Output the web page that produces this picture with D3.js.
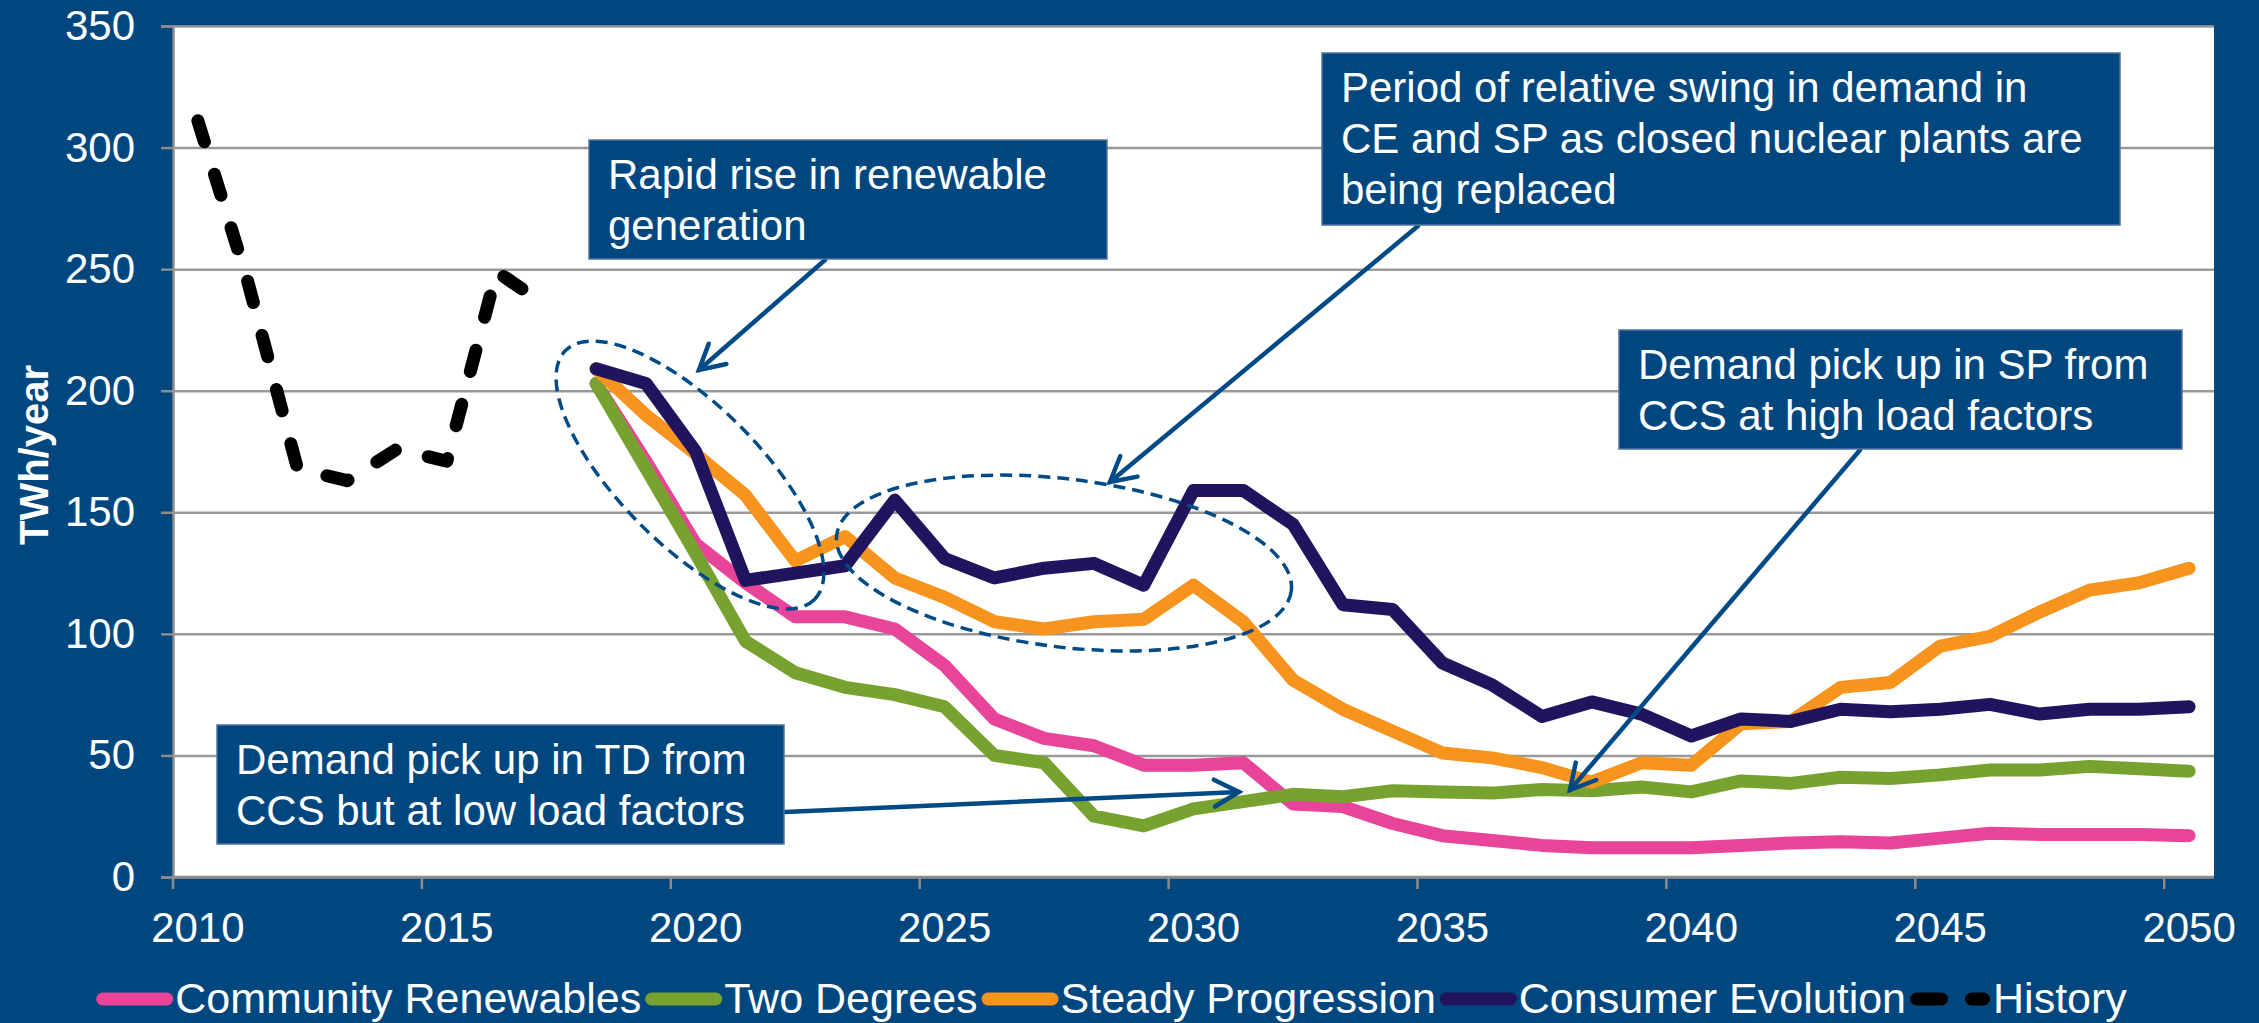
<!DOCTYPE html>
<html>
<head>
<meta charset="utf-8">
<script src="https://cdn.jsdelivr.net/npm/d3@7"></script>
<style>
  html, body { margin: 0; padding: 0; background: #00477f; }
  svg { display: block; }
  text { font-family: "Liberation Sans", Arial, sans-serif; fill: #fff; }
</style>
</head>
<body>
<div id="chart"></div>
<script>
// data (TWh/year)
const years = d3.range(2010, 2051);
const yTicks = [0, 50, 100, 150, 200, 250, 300, 350];
const xTickYears = [2010, 2015, 2020, 2025, 2030, 2035, 2040, 2045, 2050];

const historyYears = [2010, 2011, 2012, 2013, 2014, 2015, 2016, 2017];
const history = [311, 245, 168, 163, 176, 171, 249, 235];

const scenarioYears = d3.range(2018, 2051);
const communityRenewables = [203, 171, 137, 121, 107, 107, 102, 87, 65, 57, 54, 46, 46, 47, 30, 29, 22, 17, 15, 13, 12, 12, 12, 13, 14, 14.5, 14, 16, 18, 17.5, 17.5, 17.5, 17];
const twoDegrees = [203, 168, 133, 97, 84, 78, 75, 70, 50, 47, 25, 21, 28, 31, 34, 33, 35.5, 35, 34.5, 36, 35.5, 37, 35, 39.5, 38.5, 41, 40.5, 42, 44, 44, 45.5, 44.5, 43.5];
const steadyProgression = [209, 190, 174, 157, 130, 140, 123, 115, 105, 102, 105, 106, 120, 105, 81, 69, 60, 51, 49, 45, 39, 47, 46, 63, 64, 78, 80, 95, 99, 109, 118, 121, 127];
const consumerEvolution = [209, 203, 175, 122, 125, 128, 155, 131, 123, 127, 129, 120, 159, 159, 145, 112, 110, 88, 79, 66, 72, 67, 58, 65, 64, 69, 68, 69, 71, 67, 69, 69, 70];

const seriesNames = ["Community Renewables", "Two Degrees", "Steady Progression", "Consumer Evolution", "History"];
const seriesColors = ["#e8449a", "#78a22f", "#f7941d", "#21145f", "#000000"];

const W = 2259, H = 1023;
const navy = "#00477f";
const plot = { left: 173, right: 2214, top: 26, bottom: 877 };

const svg = d3.select("#chart").append("svg")
  .attr("width", W)
  .attr("height", H);

svg.append("rect").attr("width", W).attr("height", H).attr("fill", navy);
svg.append("rect")
  .attr("x", plot.left).attr("y", plot.top)
  .attr("width", plot.right - plot.left).attr("height", plot.bottom - plot.top)
  .attr("fill", "#fff");

const x = d3.scaleBand().domain(years).range([plot.left, plot.right]).padding(0);
const y = d3.scaleLinear().domain([0, 350]).range([plot.bottom, plot.top]);
const cx = d => x(d) + x.bandwidth() / 2;

// gridlines + y axis
const yAxis = d3.axisLeft(y).tickValues(yTicks).tickSize(12).tickPadding(26);
const gy = svg.append("g").attr("transform", `translate(${plot.left},0)`).call(yAxis);
gy.select(".domain").attr("stroke", "#8c8c8c").attr("stroke-width", 2.5);
gy.selectAll(".tick line").attr("stroke", "#8c8c8c").attr("stroke-width", 2.5)
  .attr("x2", -12);
gy.selectAll(".tick").append("line")
  .attr("x1", 0).attr("x2", plot.right - plot.left)
  .attr("stroke", d => d === 0 ? "#8c8c8c" : "#999").attr("stroke-width", 2.5);
gy.selectAll(".tick text").attr("fill", "#fff").attr("font-size", 42)
  .attr("font-family", "Liberation Sans, Arial, sans-serif");

// x axis: ticks at category boundaries, labels at centres
const gx = svg.append("g");
gx.append("line")
  .attr("x1", plot.left).attr("x2", plot.right)
  .attr("y1", plot.bottom).attr("y2", plot.bottom)
  .attr("stroke", "#8c8c8c").attr("stroke-width", 2.5);
gx.selectAll(".xt").data(xTickYears).join("line")
  .attr("x1", d => x(d)).attr("x2", d => x(d))
  .attr("y1", plot.bottom).attr("y2", plot.bottom + 12)
  .attr("stroke", "#8c8c8c").attr("stroke-width", 2.5);
gx.selectAll(".xl").data(xTickYears).join("text")
  .attr("x", d => cx(d)).attr("y", 942)
  .attr("text-anchor", "middle").attr("font-size", 42)
  .text(d => d);

// y title
svg.append("text")
  .attr("transform", "translate(48,455) rotate(-90)")
  .attr("text-anchor", "middle")
  .attr("font-size", 40).attr("font-weight", "bold")
  .text("TWh/year");

// scenario lines
const line = d3.line().x(d => cx(d[0])).y(d => y(d[1]));
const scenarios = [communityRenewables, twoDegrees, steadyProgression, consumerEvolution];
scenarios.forEach((vals, i) => {
  svg.append("path")
    .datum(scenarioYears.map((yr, j) => [yr, vals[j]]))
    .attr("d", line)
    .attr("fill", "none")
    .attr("stroke", seriesColors[i])
    .attr("stroke-width", 13)
    .attr("stroke-linejoin", "round")
    .attr("stroke-linecap", "round");
});
svg.append("path")
  .datum(historyYears.map((yr, j) => [yr, history[j]]))
  .attr("d", line)
  .attr("fill", "none")
  .attr("stroke", "#000")
  .attr("stroke-width", 13)
  .attr("stroke-dasharray", "22,34")
  .attr("stroke-linejoin", "round")
  .attr("stroke-linecap", "round");

// annotations
const annColor = "#004a85";
const ellipses = [
  { cx: 690, cy: 475, rx: 176, ry: 70, rot: 45 },
  { cx: 1064, cy: 563, rx: 229, ry: 84, rot: 7 }
];
svg.selectAll(".ell").data(ellipses).join("ellipse")
  .attr("cx", 0).attr("cy", 0)
  .attr("rx", d => d.rx).attr("ry", d => d.ry)
  .attr("transform", d => `translate(${d.cx},${d.cy}) rotate(${d.rot})`)
  .attr("fill", "none").attr("stroke", annColor)
  .attr("stroke-width", 3.5).attr("stroke-dasharray", "12,7");

const arrows = [
  [825, 260, 699, 370],
  [1418, 226, 1110, 482],
  [1860, 450, 1570, 790],
  [785, 812, 1239, 792]
];
arrows.forEach(([x1, y1, x2, y2]) => {
  const g = svg.append("g")
    .attr("stroke", annColor).attr("stroke-width", 4.5)
    .attr("stroke-linecap", "round").attr("fill", "none");
  g.append("line").attr("x1", x1).attr("y1", y1).attr("x2", x2).attr("y2", y2);
  const a = Math.atan2(y1 - y2, x1 - x2);
  const len = 28, spread = 0.5;
  g.append("path").attr("d",
    `M${x2 + len * Math.cos(a - spread)},${y2 + len * Math.sin(a - spread)}` +
    `L${x2},${y2}` +
    `L${x2 + len * Math.cos(a + spread)},${y2 + len * Math.sin(a + spread)}`)
    .attr("stroke-linejoin", "miter");
});

const boxes = [
  { x: 589, y: 140, w: 518, h: 119, lines: ["Rapid rise in renewable", "generation"] },
  { x: 1322, y: 53, w: 798, h: 172, lines: ["Period of relative swing in demand in", "CE and SP as closed nuclear plants are", "being replaced"] },
  { x: 1619, y: 330, w: 563, h: 119, lines: ["Demand pick up in SP from", "CCS at high load factors"] },
  { x: 217, y: 725, w: 567, h: 119, lines: ["Demand pick up in TD from", "CCS but at low load factors"] }
];
boxes.forEach(b => {
  svg.append("rect")
    .attr("x", b.x).attr("y", b.y).attr("width", b.w).attr("height", b.h)
    .attr("fill", navy).attr("stroke", "#4f76a0").attr("stroke-width", 1.5);
  b.lines.forEach((t, i) => {
    svg.append("text")
      .attr("x", b.x + 19).attr("y", b.y + 49 + i * 51)
      .attr("font-size", 42)
      .text(t);
  });
});

// legend
const legend = svg.append("g");
let lx = 0;
seriesNames.forEach((name, i) => {
  const g = legend.append("g");
  const isHist = name === "History";
  g.append("line")
    .attr("x1", lx + 6.5).attr("x2", lx + (isHist ? 73.5 : 70.5))
    .attr("y1", 999).attr("y2", 999)
    .attr("stroke", seriesColors[i]).attr("stroke-width", 13)
    .attr("stroke-linecap", "round")
    .attr("stroke-dasharray", isHist ? "25,30" : null);
  const t = g.append("text")
    .attr("x", lx + (isHist ? 83 : 79)).attr("y", 1013)
    .attr("font-size", 43)
    .text(name);
  lx += (isHist ? 83 : 79) + t.node().getComputedTextLength() + 4;
});
legend.attr("transform", `translate(${1113.5 - lx / 2},0)`);
</script>
</body>
</html>
